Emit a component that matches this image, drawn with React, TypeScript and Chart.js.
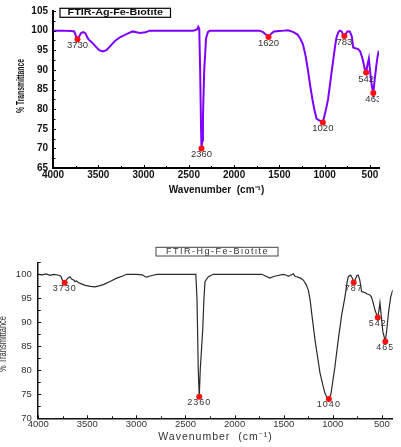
import { useEffect, useRef } from 'react';
import { Chart, registerables } from 'chart.js';

Chart.register(...registerables);

const FONT = '"Liberation Sans", Arial, Helvetica, sans-serif';

// ---- FTIR-Ag-Fe-Biotite spectrum ----
const agWavenumber = [
  4000, 3900, 3800, 3765, 3745, 3730, 3715, 3690, 3665, 3640, 3620, 3605, 3570, 3530, 3490, 3450,
  3410, 3370, 3320, 3260, 3190, 3120, 3080, 3040, 2980, 2930, 2800, 2600, 2450, 2410, 2395, 2385,
  2375, 2365, 2360, 2352, 2344, 2330, 2310, 2290, 2267, 2200, 2000, 1800, 1720, 1680, 1650, 1620,
  1590, 1560, 1500, 1450, 1406, 1350, 1300, 1270, 1240, 1210, 1185, 1160, 1130, 1110, 1090, 1060,
  1035, 1020, 1000, 980, 962, 940, 920, 906, 885, 870, 850, 832, 812, 795, 783, 770, 750, 722,
  700, 685, 660, 630, 610, 582, 560, 542, 530, 512, 495, 480, 463, 450, 430, 415, 402,
];
const agTransmittance = [
  100, 100, 99.9, 99.8, 98.5, 97.8, 98.4, 99.4, 99.6, 99.3, 98.2, 97.7, 97.0, 96.0, 95.0, 94.7,
  95.0, 96.0, 97.3, 98.3, 99.1, 99.8, 99.6, 99.4, 99.6, 100, 100, 100, 100, 100.3, 101, 100.5,
  90, 75, 70, 72, 78, 90, 98, 99.6, 100, 100, 100, 100, 100, 99.6, 99, 98.4,
  99.2, 99.8, 99.9, 100, 100.1, 99.7, 99.0, 98.0, 96.5, 93.5, 90, 86, 81.8, 79.5, 77.6, 77.1,
  76.8, 76.6, 78.5, 80.5, 82.6, 86.5, 90, 92.4, 96, 98.2, 99.6, 100, 99.8, 98.9, 98.6, 99.0, 99.8, 99.8,
  98.5, 95.7, 95.5, 95.3, 94.8, 92.9, 90.5, 89.3, 91, 92.9, 89, 86, 84.1, 87, 91, 93.5, 94.9,
];
const agPeakWavenumber = [3730, 2360, 1620, 1020, 783, 542, 463];
const agPeakTransmittance = [97.8, 70, 98.4, 76.6, 98.6, 89.3, 84.1];

// ---- FTIR-Hg-Fe-Biotite spectrum ----
const hgWavenumber = [
  4000, 3960, 3920, 3880, 3840, 3790, 3770, 3750, 3730, 3720, 3700, 3676, 3659, 3640, 3625, 3610,
  3592, 3560, 3520, 3470, 3422, 3380, 3330, 3269, 3200, 3133, 3099, 3000, 2940, 2910, 2895, 2870,
  2830, 2793, 2600, 2420, 2395, 2383, 2370, 2360, 2350, 2335, 2325, 2312, 2301, 2267, 2217, 2000,
  1800, 1724, 1680, 1640, 1610, 1572, 1504, 1470, 1453, 1420, 1402, 1385, 1368, 1330, 1300, 1270,
  1249, 1230, 1215, 1181, 1155, 1130, 1100, 1079, 1060, 1040, 1020, 1013, 980, 945, 910, 876,
  855, 842, 818, 800, 787, 770, 755, 741, 725, 707, 690, 673, 650, 622, 605, 588, 570, 542,
  530, 520, 505, 490, 465, 450, 430, 410, 390,
];
const hgTransmittance = [
  100, 99.9, 100.1, 99.8, 100, 99.8, 99.6, 98.6, 98.25, 98.6, 99.2, 99.5, 99.0, 98.8, 98.5, 98.6,
  98.3, 98.0, 97.7, 97.5, 97.4, 97.6, 97.9, 98.5, 99.2, 99.7, 100, 100, 99.9, 99.5, 99.4, 99.6,
  99.8, 100, 100, 100, 100, 95, 80, 74.5, 80, 85, 88.4, 95, 98.5, 99.5, 100, 100,
  100, 100, 99.6, 99.2, 99.5, 99.7, 100, 99.8, 99.6, 99.9, 100.1, 99.6, 99.5, 99.2, 98.8, 97.8,
  96.7, 94.5, 91.9, 86.3, 82.8, 79.4, 76.8, 75.2, 74.4, 74.0, 75.0, 75.9, 80.5, 86.3, 91.5, 95.3,
  98.3, 99.5, 99.85, 99.2, 98.3, 99.0, 99.7, 99.85, 98.8, 96.4, 96.3, 96.2, 95.9, 95.7, 95.2, 94.0, 92.5, 91.0,
  92.5, 94.1, 91, 88, 86.0, 88.5, 92.5, 95.3, 96.7,
];
const hgPeakWavenumber = [3730, 2360, 1040, 787, 542, 465];
const hgPeakTransmittance = [98.25, 74.5, 74.0, 98.3, 91.0, 86.0];

// ---- axis ticks ----
const agXTicks = [4000, 3500, 3000, 2500, 2000, 1500, 1000, 500];
const agXMinorTicks = [3750, 3250, 2750, 2250, 1750, 1250, 750];
const agYTicks = [65, 70, 75, 80, 85, 90, 95, 100, 105];
const agYMinorTicks = [67.5, 72.5, 77.5, 82.5, 87.5, 92.5, 97.5, 102.5];

const hgXTicks = [4000, 3500, 3000, 2500, 2000, 1500, 1000, 500];
const hgXMinorTicks = [3750, 3250, 2750, 2250, 1750, 1250, 750];
const hgYTicks = [70, 75, 80, 85, 90, 95, 100];
const hgYMinorTicks = [72.5, 77.5, 82.5, 87.5, 92.5, 97.5, 102.5];

const X_TITLE = 'Wavenumber  (cm⁻¹)';
const Y_TITLE = '% Transmittance';

interface TextStyle {
  font: string;
  color: string;
  sx?: number;
  rotate?: number;
  letterSpacing?: string;
}

interface Placed {
  x: number;
  y: number;
  style: TextStyle;
}

interface Panel {
  title: string;
  wavenumber: number[];
  transmittance: number[];
  peakW: number[];
  peakT: number[];
  xTicks: number[];
  xMinor: number[];
  yTicks: number[];
  yMinor: number[];
  xMin: number;
  xMax: number;
  yMin: number;
  yMax: number;
  lineColor: string;
  lineWidth: number;
  axisColor: string;
  axisWidth: number;
  padTop: number;
  padRight: number;
  yAxisWidth: number;
  xAxisHeight: number;
  tickFont: { size: number; weight: string };
  tickColor: string;
  xTickPad: number;
  yTickPad: number;
  xTitle: Placed;
  yTitle: Placed;
  box: { x: number; y: number; w: number; h: number; color: string; width: number };
  boxText: Placed;
  peakStyle: TextStyle;
  peakOffset: number;
}

function drawText(ctx: CanvasRenderingContext2D, text: string, x: number, y: number, s: TextStyle) {
  ctx.save();
  ctx.translate(x, y);
  if (s.rotate) ctx.rotate(s.rotate);
  ctx.scale(s.sx ?? 1, 1);
  ctx.font = s.font;
  ctx.fillStyle = s.color;
  ctx.textAlign = 'center';
  ctx.textBaseline = 'middle';
  if (s.letterSpacing) (ctx as any).letterSpacing = s.letterSpacing;
  ctx.fillText(text, 0, 0);
  ctx.restore();
}

const agPanel: Panel = {
  title: 'FTIR-Ag-Fe-Biotite',
  wavenumber: agWavenumber,
  transmittance: agTransmittance,
  peakW: agPeakWavenumber,
  peakT: agPeakTransmittance,
  xTicks: agXTicks,
  xMinor: agXMinorTicks,
  yTicks: agYTicks,
  yMinor: agYMinorTicks,
  xMin: 400,
  xMax: 4000,
  yMin: 65,
  yMax: 105,
  lineColor: '#7f00ff',
  lineWidth: 2,
  axisColor: '#000',
  axisWidth: 2,
  padTop: 6,
  padRight: 22,
  yAxisWidth: 53,
  xAxisHeight: 32,
  tickFont: { size: 10, weight: 'bold' },
  tickColor: '#111',
  xTickPad: 1,
  yTickPad: 5,
  xTitle: { x: 216.5, y: 190, style: { font: `bold 10px ${FONT}`, color: '#111' } },
  yTitle: { x: 21.5, y: 86, style: { font: `bold 10px ${FONT}`, color: '#111', sx: 0.68, rotate: -Math.PI / 2 } },
  box: { x: 60, y: 8.3, w: 110.5, h: 9, color: '#000', width: 1.2 },
  boxText: { x: 115.3, y: 12.9, style: { font: `bold 9px ${FONT}`, color: '#111', sx: 1.2 } },
  peakStyle: { font: `9.5px ${FONT}`, color: '#333' },
  peakOffset: 6.3,
};

const hgPanel: Panel = {
  title: 'FTIR-Hg-Fe-Biotite',
  wavenumber: hgWavenumber,
  transmittance: hgTransmittance,
  peakW: hgPeakWavenumber,
  peakT: hgPeakTransmittance,
  xTicks: hgXTicks,
  xMinor: hgXMinorTicks,
  yTicks: hgYTicks,
  yMinor: hgYMinorTicks,
  xMin: 390,
  xMax: 4000,
  yMin: 70,
  yMax: 102.5,
  lineColor: '#2a2a2a',
  lineWidth: 1.2,
  axisColor: '#111',
  axisWidth: 1.5,
  padTop: 32.3,
  padRight: 8.3,
  yAxisWidth: 38.2,
  xAxisHeight: 28.7,
  tickFont: { size: 9.5, weight: 'normal' },
  tickColor: '#333',
  xTickPad: 0.5,
  yTickPad: 6.5,
  xTitle: { x: 215.5, y: 206.7, style: { font: `10.5px ${FONT}`, color: '#333', letterSpacing: '1px' } },
  yTitle: { x: 3.5, y: 114, style: { font: `10px ${FONT}`, color: '#333', sx: 0.75, rotate: -Math.PI / 2 } },
  box: { x: 156, y: 17.3, w: 122, h: 8.7, color: '#444', width: 1 },
  boxText: { x: 217.5, y: 21.8, style: { font: `9px ${FONT}`, color: '#333', letterSpacing: '1.5px' } },
  peakStyle: { font: `9px ${FONT}`, color: '#333', letterSpacing: '1px' },
  peakOffset: 5.8,
};

function makeChart(canvas: HTMLCanvasElement, p: Panel): Chart {
  const overlay = {
    id: 'spectrumOverlay',
    afterDraw(chart: Chart) {
      const { ctx, chartArea: a } = chart;
      const x = chart.scales.x;
      const y = chart.scales.y;

      // inward tick marks
      ctx.save();
      ctx.strokeStyle = p.axisColor;
      ctx.lineWidth = 1;
      ctx.beginPath();
      p.xTicks.forEach((v) => {
        const px = Math.round(x.getPixelForValue(v)) + 0.5;
        ctx.moveTo(px, a.bottom);
        ctx.lineTo(px, a.bottom - 3);
      });
      p.xMinor.forEach((v) => {
        const px = Math.round(x.getPixelForValue(v)) + 0.5;
        ctx.moveTo(px, a.bottom);
        ctx.lineTo(px, a.bottom - 2);
      });
      p.yTicks.forEach((v) => {
        const py = Math.round(y.getPixelForValue(v)) + 0.5;
        ctx.moveTo(a.left, py);
        ctx.lineTo(a.left + 3, py);
      });
      p.yMinor.forEach((v) => {
        const py = Math.round(y.getPixelForValue(v)) + 0.5;
        ctx.moveTo(a.left, py);
        ctx.lineTo(a.left + 2.5, py);
      });
      ctx.stroke();
      ctx.restore();

      // peak labels, clipped at the plot's right edge
      ctx.save();
      ctx.beginPath();
      ctx.rect(a.left, 0, a.right - a.left, chart.height);
      ctx.clip();
      p.peakW.forEach((w, i) => {
        drawText(ctx, String(w), x.getPixelForValue(w), y.getPixelForValue(p.peakT[i]) + p.peakOffset, p.peakStyle);
      });
      ctx.restore();

      // axis titles
      drawText(ctx, X_TITLE, p.xTitle.x, p.xTitle.y, p.xTitle.style);
      drawText(ctx, Y_TITLE, p.yTitle.x, p.yTitle.y, p.yTitle.style);

      // framed sample name
      ctx.save();
      ctx.fillStyle = '#fff';
      ctx.fillRect(p.box.x, p.box.y, p.box.w, p.box.h);
      ctx.strokeStyle = p.box.color;
      ctx.lineWidth = p.box.width;
      ctx.strokeRect(p.box.x, p.box.y, p.box.w, p.box.h);
      ctx.restore();
      drawText(ctx, p.title, p.boxText.x, p.boxText.y, p.boxText.style);
    },
  };

  return new Chart(canvas, {
    type: 'line',
    data: {
      datasets: [
        {
          data: p.wavenumber.map((w, i) => ({ x: w, y: p.transmittance[i] })),
          borderColor: p.lineColor,
          borderWidth: p.lineWidth,
          pointRadius: 0,
          tension: 0,
          fill: false,
          order: 2,
        },
        {
          data: p.peakW.map((w, i) => ({ x: w, y: p.peakT[i] })),
          showLine: false,
          pointRadius: 3,
          pointBackgroundColor: '#ff1010',
          pointBorderWidth: 0,
          order: 1,
        },
      ],
    },
    options: {
      animation: false,
      responsive: false,
      maintainAspectRatio: false,
      events: [],
      layout: { padding: { left: 0, right: p.padRight, top: p.padTop, bottom: 0 } },
      plugins: { legend: { display: false }, tooltip: { enabled: false } },
      scales: {
        x: {
          type: 'linear',
          reverse: true,
          min: p.xMin,
          max: p.xMax,
          grid: { display: false, drawTicks: false },
          border: { display: true, color: p.axisColor, width: p.axisWidth },
          afterBuildTicks: (s: any) => {
            s.ticks = p.xTicks.map((v) => ({ value: v }));
          },
          afterFit: (s: any) => {
            s.height = p.xAxisHeight;
          },
          ticks: {
            autoSkip: false,
            maxRotation: 0,
            padding: p.xTickPad,
            color: p.tickColor,
            font: { family: FONT, size: p.tickFont.size, weight: p.tickFont.weight as any, lineHeight: 1.2 },
            callback: (v: any) => String(v),
          },
          title: { display: false },
        },
        y: {
          type: 'linear',
          min: p.yMin,
          max: p.yMax,
          grid: { display: false, drawTicks: false },
          border: { display: true, color: p.axisColor, width: p.axisWidth },
          afterBuildTicks: (s: any) => {
            s.ticks = p.yTicks.map((v) => ({ value: v }));
          },
          afterFit: (s: any) => {
            s.width = p.yAxisWidth;
          },
          ticks: {
            autoSkip: false,
            padding: p.yTickPad,
            color: p.tickColor,
            font: { family: FONT, size: p.tickFont.size, weight: p.tickFont.weight as any, lineHeight: 1.2 },
            callback: (v: any) => String(v),
          },
        },
      },
    },
    plugins: [overlay],
  });
}

export default function App() {
  const topRef = useRef<HTMLCanvasElement>(null);
  const bottomRef = useRef<HTMLCanvasElement>(null);

  useEffect(() => {
    const charts = [makeChart(topRef.current!, agPanel), makeChart(bottomRef.current!, hgPanel)];
    return () => charts.forEach((c) => c.destroy());
  }, []);

  return (
    <div
      style={{
        position: 'fixed',
        left: 0,
        top: 0,
        width: 401,
        height: 447,
        background: '#fff',
        overflow: 'hidden',
      }}
    >
      <canvas
        ref={topRef}
        width={401}
        height={200}
        style={{ position: 'absolute', left: 0, top: 0, width: 401, height: 200 }}
      />
      <canvas
        ref={bottomRef}
        width={401}
        height={217}
        style={{ position: 'absolute', left: 0, top: 230, width: 401, height: 217 }}
      />
    </div>
  );
}
